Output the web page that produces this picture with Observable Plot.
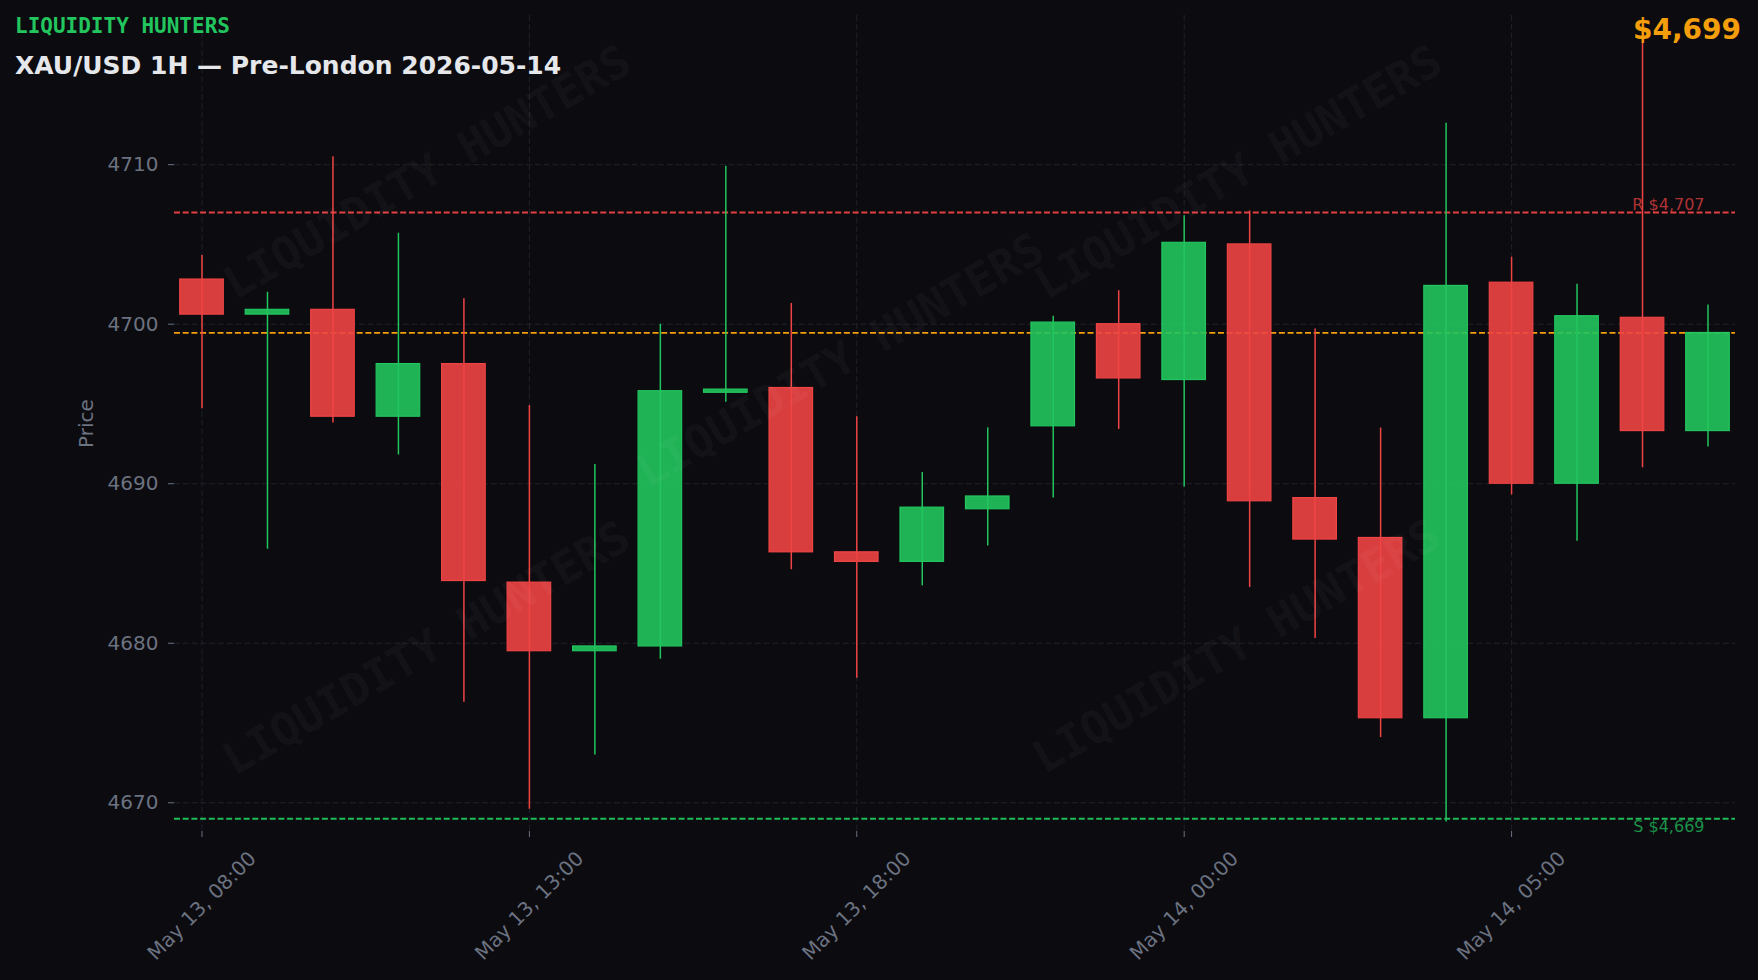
<!DOCTYPE html>
<html>
<head>
<meta charset="utf-8">
<script src="https://cdn.jsdelivr.net/npm/d3@7"></script>
<script src="https://cdn.jsdelivr.net/npm/@observablehq/plot@0.6"></script>
<style>
  html, body { margin: 0; padding: 0; background: #0b0b10; }
  #wrap { position: relative; width: 1758px; height: 980px; overflow: hidden; background: #0b0b10; }
  #chart { position: absolute; left: 0; top: 0; }
  .hdr { position: absolute; white-space: nowrap; line-height: 1; z-index: 3; }
  #brand { left: 15px; top: 14px; font: bold 21px "DejaVu Sans Mono", monospace; color: #22c55e; }
  #title { left: 15px; top: 51px; font: bold 25px "DejaVu Sans", sans-serif; color: #e5e7eb; }
  #price { right: 17px; top: 13px; font: bold 28px "DejaVu Sans", sans-serif; color: #f59e0b; }
  .wm { position: absolute; white-space: nowrap; line-height: 1; z-index: 2; pointer-events: none;
        font: bold 45px "DejaVu Sans Mono", monospace; color: rgba(255,255,255,0.05);
        transform: translate(-50%, -50%) rotate(-30deg); }
</style>
</head>
<body>
<div id="wrap">
  <div id="chart"></div>
  <div id="brand" class="hdr"></div>
  <div id="title" class="hdr"></div>
  <div id="price" class="hdr"></div>
</div>
<script>
// ---- data ----
const brand = "LIQUIDITY HUNTERS";
const title = "XAU/USD 1H — Pre-London 2026-05-14";
const times = [
  "May 13, 08:00", "May 13, 09:00", "May 13, 10:00", "May 13, 11:00", "May 13, 12:00",
  "May 13, 13:00", "May 13, 14:00", "May 13, 15:00", "May 13, 16:00", "May 13, 17:00",
  "May 13, 18:00", "May 13, 19:00", "May 13, 20:00", "May 13, 22:00", "May 13, 23:00",
  "May 14, 00:00", "May 14, 01:00", "May 14, 02:00", "May 14, 03:00", "May 14, 04:00",
  "May 14, 05:00", "May 14, 06:00", "May 14, 07:00", "May 14, 08:00"
];
const open  = [4702.8, 4700.6, 4700.9, 4694.2, 4697.5, 4683.8, 4679.5, 4679.8, 4695.7, 4696.0, 4685.7, 4685.1,
               4688.4, 4693.6, 4700.0, 4696.5, 4705.0, 4689.1, 4686.6, 4675.3, 4702.6, 4690.0, 4700.4, 4693.3];
const close = [4700.6, 4700.9, 4694.2, 4697.5, 4683.9, 4679.5, 4679.8, 4695.8, 4695.9, 4685.7, 4685.1, 4688.5,
               4689.2, 4700.1, 4696.6, 4705.1, 4688.9, 4686.5, 4675.3, 4702.4, 4690.0, 4700.5, 4693.3, 4699.45];
const high  = [4704.3, 4702.0, 4710.5, 4705.7, 4701.6, 4694.9, 4691.2, 4700.0, 4709.9, 4701.3, 4694.2, 4690.7,
               4693.5, 4700.5, 4702.1, 4706.8, 4707.1, 4699.7, 4693.5, 4712.6, 4704.2, 4702.5, 4718.4, 4701.2];
const low   = [4694.7, 4685.9, 4693.8, 4691.8, 4676.3, 4669.6, 4673.0, 4679.0, 4695.1, 4684.6, 4677.8, 4683.6,
               4686.1, 4689.1, 4693.4, 4689.8, 4683.5, 4680.3, 4674.1, 4668.8, 4689.3, 4686.4, 4691.0, 4692.3];
const resistance = 4707;
const support = 4669;
const yTicks = [4670, 4680, 4690, 4700, 4710];
const xTickIdx = [0, 5, 10, 15, 20];

// ---- styles ----
const bg = "#0b0b10";
const up = "#22c55e", down = "#ef4444", orange = "#f59e0b";
const gridColor = "#20222a", axisGray = "#6b7280";
const bodyW = 0.665;

const candles = times.map((t, i) => ({
  i, t, o: open[i], c: close[i], h: high[i], l: low[i],
  col: close[i] >= open[i] ? up : down
}));
const last = close[close.length - 1];
const fmt$ = d3.format("$,.0f");

document.getElementById("brand").textContent = brand;
document.getElementById("title").textContent = title;
document.getElementById("price").textContent = fmt$(last);

const xTicks = xTickIdx.map(i => ({i, label: times[i]}));
const levels = [
  {v: resistance, text: "R " + fmt$(resistance), col: down, anchor: "bottom"},
  {v: support, text: "S " + fmt$(support), col: up, anchor: "top"}
];

const chart = Plot.plot({
  width: 1758,
  height: 980,
  marginLeft: 174,
  marginRight: 23,
  marginTop: 15,
  marginBottom: 149,
  x: {type: "linear", domain: [-0.42, 23.42], axis: null, label: null},
  y: {domain: [4668.2, 4719.35], axis: null, label: null},
  style: {background: bg, color: axisGray, fontFamily: "DejaVu Sans, sans-serif", fontSize: "20px"},
  marks: [
    Plot.gridY(yTicks, {stroke: gridColor, strokeOpacity: 1, strokeWidth: 1, strokeDasharray: "6,2.8"}),
    Plot.gridX(xTickIdx, {stroke: gridColor, strokeOpacity: 1, strokeWidth: 1, strokeDasharray: "6,2.8"}),
    Plot.axisY(yTicks, {tickSize: 6, tickPadding: 10, tickFormat: d3.format("d"), fontSize: 20,
      stroke: axisGray, fill: axisGray, label: null}),
    Plot.axisX(xTickIdx, {tickSize: 6, tickFormat: () => "", stroke: axisGray, label: null}),
    Plot.text(xTicks, {x: "i", text: "label", frameAnchor: "bottom", dy: 74.5, rotate: -45,
      textAnchor: "middle", lineAnchor: "middle", fill: axisGray, fontSize: 20}),
    Plot.text(["Price"], {frameAnchor: "left", dx: -88, rotate: -90, textAnchor: "middle",
      lineAnchor: "middle", fill: axisGray, fontSize: 20, text: d => d}),
    // levels
    Plot.ruleY([resistance], {stroke: down, strokeWidth: 1.8, strokeDasharray: "6,2.7", strokeOpacity: 0.95}),
    Plot.ruleY([last], {stroke: orange, strokeWidth: 1.8, strokeDasharray: "6,2.7"}),
    Plot.ruleY([support], {stroke: up, strokeWidth: 1.8, strokeDasharray: "6,2.7", strokeOpacity: 0.95}),
    // wicks
    Plot.ruleX(candles, {x: "i", y1: "l", y2: "h", stroke: d => d.col, strokeWidth: 1.5}),
    // bodies
    Plot.rect(candles, {
      x1: d => d.i - bodyW / 2, x2: d => d.i + bodyW / 2,
      y1: d => Math.min(d.o, d.c), y2: d => Math.max(d.o, d.c),
      fill: d => d.col, fillOpacity: 0.9, stroke: d => d.col, strokeWidth: 1.2
    }),
    // level labels
    Plot.text(levels.filter(d => d.anchor === "bottom"), {y: "v", text: "text", frameAnchor: "right", dx: -31, dy: -2.4,
      textAnchor: "end", lineAnchor: "bottom", fill: d => d.col, fillOpacity: 0.72, fontSize: 16}),
    Plot.text(levels.filter(d => d.anchor === "top"), {y: "v", text: "text", frameAnchor: "right", dx: -31, dy: 2.3,
      textAnchor: "end", lineAnchor: "top", fill: d => d.col, fillOpacity: 0.72, fontSize: 16})
  ]
});
document.getElementById("chart").appendChild(chart);

// watermark (decoration)
const wmCenters = [[427, 172], [840, 360], [1238, 172], [426, 648], [1236, 646]];
const wrap = document.getElementById("wrap");
wmCenters.forEach(([cx, cy]) => {
  const d = document.createElement("div");
  d.className = "wm";
  d.textContent = brand;
  d.style.left = cx + "px";
  d.style.top = cy + "px";
  wrap.appendChild(d);
});
</script>
</body>
</html>
